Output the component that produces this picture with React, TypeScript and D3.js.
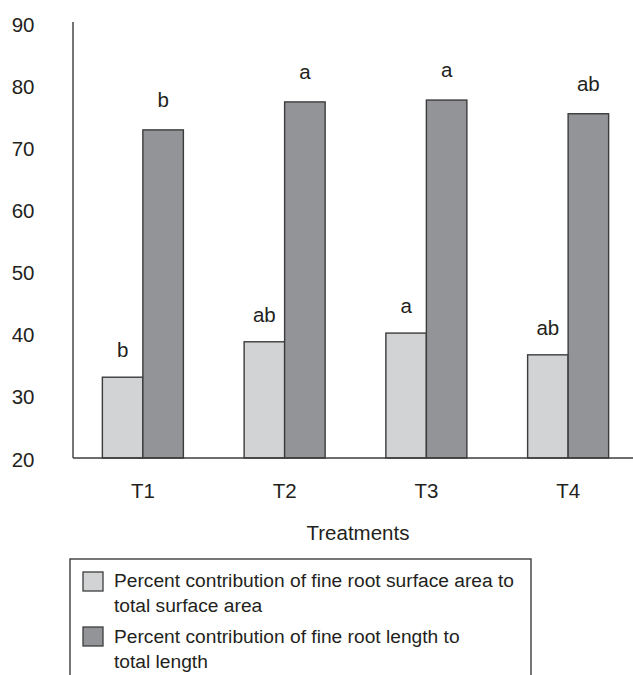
import React from "react";
import * as d3 from "d3";

const categories = ["T1", "T2", "T3", "T4"];
const surfaceArea = [33.0, 38.7, 40.1, 36.6];
const rootLength = [72.8, 77.3, 77.6, 75.4];
const surfaceLetters = ["b", "ab", "a", "ab"];
const lengthLetters = ["b", "a", "a", "ab"];
const yTicks = [20, 30, 40, 50, 60, 70, 80, 90];
const legendLabels = [
  ["Percent contribution of fine root surface area to", "total surface area"],
  ["Percent contribution of fine root length to", "total length"],
];

const W = 633;
const H = 675;
const FONT = "'Liberation Sans', Arial, Helvetica, sans-serif";
const LIGHT = "#d2d3d5";
const DARK = "#939498";
const STROKE = "#3c3c3c";
const TEXT = "#231f20";

export default function App() {
  const x = d3.scaleBand<string>().domain(categories).range([72, 639]).padding(0);
  const y = d3.scaleLinear().domain([20, 90]).range([458, 23]);
  const barW = 40.5;
  const series = [
    { values: surfaceArea, letters: surfaceLetters, fill: LIGHT, offset: -barW, lift: 20 },
    { values: rootLength, letters: lengthLetters, fill: DARK, offset: 0, lift: 23 },
  ];

  return (
    <svg
      width={W}
      height={H}
      style={{ position: "absolute", left: 0, top: 0, background: "#fff" }}
      fontFamily={FONT}
    >
      {series.map((s, si) =>
        categories.map((c, i) => {
          const cx = (x(c) as number) + x.bandwidth() / 2;
          const top = y(s.values[i]);
          return (
            <g key={`${si}-${c}`}>
              <rect
                x={cx + s.offset}
                y={top}
                width={barW}
                height={y(20) - top}
                fill={s.fill}
                stroke={STROKE}
                strokeWidth={1.4}
              />
              <text
                x={cx + s.offset + barW / 2}
                y={top - s.lift}
                textAnchor="middle"
                fontSize={20.5}
                fill={TEXT}
              >
                {s.letters[i]}
              </text>
            </g>
          );
        })
      )}
      <line x1={73} x2={73} y1={y(90) - 1} y2={y(20)} stroke={STROKE} strokeWidth={1.4} />
      <line x1={73} x2={633} y1={y(20)} y2={y(20)} stroke={STROKE} strokeWidth={1.4} />
      {yTicks.map((t) => (
        <text
          key={t}
          x={34.5}
          y={y(t) + 8.5}
          textAnchor="end"
          fontSize={20.5}
          fill={TEXT}
        >
          {t}
        </text>
      ))}
      {categories.map((c) => (
        <text
          key={c}
          x={(x(c) as number) + x.bandwidth() / 2}
          y={498}
          textAnchor="middle"
          fontSize={20.5}
          fill={TEXT}
        >
          {c}
        </text>
      ))}
      <text x={358} y={540} textAnchor="middle" fontSize={20.5} fill={TEXT}>
        Treatments
      </text>
      <rect x={70} y={559} width={461} height={140} fill="none" stroke={STROKE} strokeWidth={1.4} />
      {legendLabels.map((lines, i) => (
        <g key={i}>
          <rect
            x={83}
            y={572 + i * 55}
            width={20}
            height={19}
            fill={i === 0 ? LIGHT : DARK}
            stroke={STROKE}
            strokeWidth={1.3}
          />
          {lines.map((ln, j) => (
            <text key={j} x={114} y={587 + i * 56 + j * 25} fontSize={19.2} fill={TEXT}>
              {ln}
            </text>
          ))}
        </g>
      ))}
    </svg>
  );
}
